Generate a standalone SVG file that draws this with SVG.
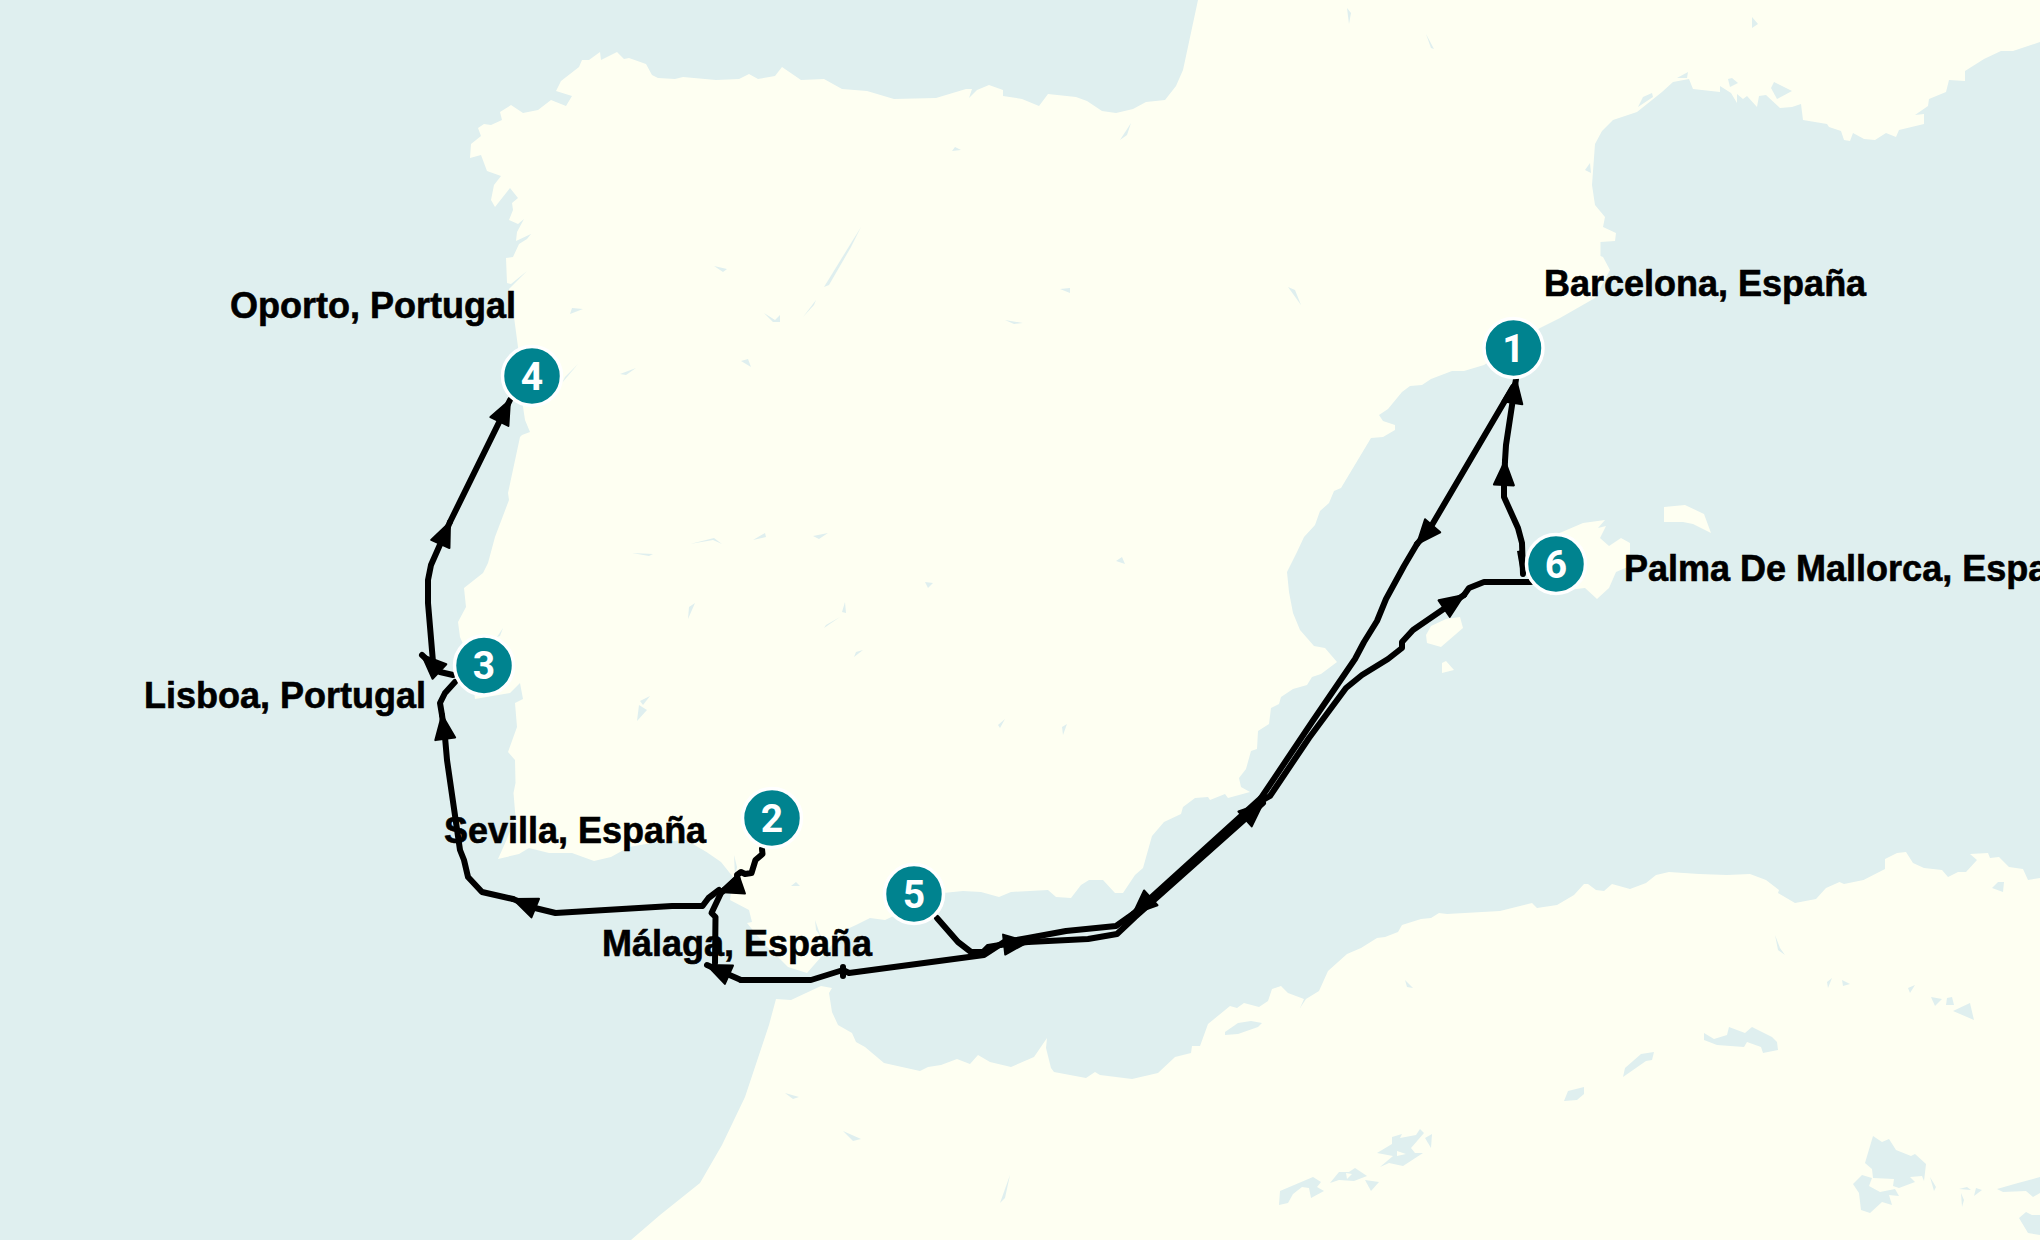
<svg xmlns="http://www.w3.org/2000/svg" width="2040" height="1240" viewBox="0 0 2040 1240">
<style>
.sea{fill:#dfefef}
.land{fill:#fefff2}
.route{fill:none;stroke:#000;stroke-width:6;stroke-linejoin:round;stroke-linecap:round}
.arr{marker-end:url(#head)}
.pin{fill:#00838f;stroke:#fff;stroke-width:3.5}
.num{font-family:"Roboto","Liberation Sans",sans-serif;font-weight:700;font-size:39px;fill:#fff;text-anchor:middle}
.lbl{font-family:"Liberation Sans",Arial,sans-serif;font-weight:700;font-size:36px;fill:#000;stroke:#000;stroke-width:.6}
</style>
<defs>
<marker id="head" markerUnits="userSpaceOnUse" markerWidth="30" markerHeight="30" refX="24" refY="10" orient="auto" overflow="visible"><path d="M0,0 L24,10 L0,20 Z" fill="#000" stroke="#000" stroke-width="2" stroke-linejoin="round"/></marker>
</defs>
<g id="map">
<rect class="sea" width="2040" height="1240"/>
<polygon class="land" points="1198,0 1183,70 1176,86 1165,100 1146,102 1133,109 1116,113 1102,111 1087,101 1076,97 1048,94 1039,106 1022,99 1003,96 1003,90 989,85 977,90 969,98 972,89 966,89 936,98 894,99 867,91 842,89 824,79 801,80 782,67 775,76 758,79 749,74 739,79 716,80 683,77 675,79 658,78 652,75 646,64 629,58 624,59 617,52 601,60 600,52 589,60 582,60 579,67 561,81 556,91 572,96 566,106 551,100 538,110 523,113 511,105 500,112 502,120 491,125 484,124 478,128 481,136 471,144 470,158 481,155 487,171 501,176 494,185 491,200 495,207 510,188 518,198 512,203 513,210 509,220 518,224 524,219 517,232 516,241 531,234 527,239 519,244 513,257 506,258 507,283 511,284 527,271 509,289 514,317 518,347 522,400 525,420 530,432 522,435 520,437 508,493 509,500 495,537 488,563 483,573 464,588 466,607 458,622 460,637 470,660 475,699 510,693 520,683 523,699 515,703 517,727 508,752 515,760 515.5,783 513.5,793 515.5,817 506.5,840 498,859 519,854 529,848 549,853 572,853 594,861 611,857 629,847 657.5,842 686,840 706.5,852 721,862 733,877 730,900 749,910 752,922 747,923 765,945 778,957 788,967 807,973 821,957 845,930 856,925 870,918 885,920 943,893 963,891 981,892 999,897 1011,892 1048,890 1056,897 1071,898 1081,885 1089,880 1103,880 1115,893 1123,893 1135,875 1143,868 1152,836 1164,822 1181,814 1183,807 1195,798 1208,797 1210,800 1225,794 1228,798 1250,792 1241,787 1239,778 1246,769 1251,751 1257,749 1258,731 1269,724 1271,708 1279,704 1281,697 1293,689 1307,685 1312,677 1321,674 1337,662 1325,648 1314,646 1300,630 1293,613 1289,592 1287,572 1297,552 1304,537 1315,525 1320,511 1329,503 1334,491 1341,488 1371,438 1383,437 1395,430 1395,425 1383,421 1379,415 1388,409 1402,392 1410,386 1422,385 1431,379 1452,371 1464,371 1484,365 1540,328 1560,318 1595,298 1610,270 1603,257 1600.5,256 1600.5,242 1615,241 1616,233 1603,227 1605,217 1595,205 1592,185 1595,144 1602,131 1613,120 1637,112 1662,92 1673,82 1689,79 1693,89 1720,92 1720,86 1731,93 1737,103 1737,94 1743,99 1747,96 1757,107 1759,96 1766,95 1780,108 1792,107 1801,104 1803,120 1827,124 1829,127 1841,131 1844,140 1850,141 1853,133 1864,139 1875,140 1886,133 1896,137 1899,130 1924,124 1924,114 1915,115 1928,106 1929,99 1946,92 1949,80 1965,81 1965,71 1984,59 2001,51 2013,51 2040,42 2040,0"/>
<polygon class="land" points="631,1240 660,1215 700,1183 722,1145 745,1097 769,1025 776,999 791,1000 821,986 832,988 829,993 832,1012 838,1025 852,1033 856,1042 865,1047 884,1063 920,1071 928,1067 941,1065 957,1059 970,1064 978,1055 990,1062 1011,1067 1034,1057 1047,1038 1046,1048 1051,1068 1054,1072 1086,1078 1095,1072 1100,1075 1132,1079 1158,1073 1175,1057 1191,1053 1192,1046 1200,1046 1208,1024 1230,1006 1237,1008 1244,1003 1259,1007 1268,1001 1272,989 1281,986 1288,993 1304,999 1300,1008 1306,999 1319,991 1328,971 1347,954 1361,948 1377,938 1385,937 1398,932 1402,925 1421,919 1431,918 1439,913 1447,914 1500,911 1532,903 1537,908 1557,905 1574,895 1584,884 1588,884 1596,890 1604,891 1612,884 1630,889 1646,883 1656,875 1669,872 1699,874 1727,875 1750,874 1766,880 1779,890 1778,893 1795,903 1816,899 1826,888 1839.5,882 1844,884 1863.5,880 1885,869 1885,859 1897,853 1906,852 1913,863 1924,868 1942,870 1948,877 1958,872 1966,872 1977,860 1970,854 1988,853 1990,858 1999,857 2009,867 2023,869 2028,880 2040,878 2040,1240"/>
<polygon class="land" points="1540,540 1562,532 1583,523 1605,520 1598,528 1606,526 1600,538 1609,546 1621,538 1630,543 1630,566 1616,572 1609,588 1597,599 1585,588 1576,589 1550,595"/>
<polygon class="land" points="1664,507 1685,505 1704,514 1711,533 1693,524 1683,522 1664,522"/>
<polygon class="land" points="1426,635 1431,626 1446,619 1460,617 1463,628 1441,647 1427,643"/>
<polygon class="land" points="1442,663 1446,661 1454,670 1442,673"/>
<g class="sea">
<polygon points="1225,1032 1238,1023 1251,1021 1262,1023 1258,1027 1238,1034 1225,1035"/>
<polygon points="1992,888 1998,882 2004,882 2003,892"/>
<polygon points="1775,935 1780,948 1785,955 1778,950"/>
<polygon points="1405,980 1413,988 1407,987"/>
<polygon points="1827,982 1832,978 1828,988"/>
<polygon points="1842,980 1850,984 1843,986"/>
<polygon points="1908,988 1915,985 1910,993"/>
<polygon points="1931,997 1942,999 1935,1006"/>
<polygon points="1947,998 1952,997 1954,1005 1946,1005"/>
<polygon points="1953,1011 1970,1003 1974,1020"/>
<polygon points="1704,1033 1714,1039 1727,1035 1729,1027 1745,1033 1752,1027 1772,1037 1777,1042 1778,1050 1763,1053 1761,1047 1747,1042 1744,1047 1717,1045 1704,1040"/>
<polygon points="1641,1054 1654,1052 1652,1060 1646,1061 1623,1077 1625,1068"/>
<polygon points="1568,1091 1584,1087 1584,1094 1577,1100 1564,1101"/>
<polygon points="1280,1191 1313,1177 1321,1182 1317,1187 1324,1191 1311,1198 1309,1188 1302,1187 1293,1194 1288,1203 1279,1205"/>
<polygon points="1339,1172 1349,1172 1355,1168 1367,1176 1354,1181 1339,1180 1330,1183"/>
<polygon points="1365,1180 1379,1182 1371,1191"/>
<polygon points="1392,1137 1402,1134 1400,1138 1416,1135 1420,1129 1424,1133 1411,1148 1415,1153 1423,1153 1403,1166 1389,1163 1380,1167 1393,1156 1377,1153 1392,1144"/>
<polygon points="1425,1138 1432,1134 1431,1148"/>
<polygon points="1873,1136 1882,1142 1889,1139 1896,1150 1911,1156 1915,1154 1926,1164 1924,1181 1922,1176 1910,1177 1915,1182 1899,1188 1893,1186 1894,1179 1873,1178 1872,1169 1865,1163"/>
<polygon points="1862,1175 1872,1178 1869,1186 1880,1192 1895,1189 1899,1196 1889,1195 1892,1205 1882,1202 1870,1213 1861,1210 1859,1193 1853,1184"/>
<polygon points="1930,1177 1936,1187 1934,1191"/>
<polygon points="1959,1189 1967,1187 1971,1190"/>
<polygon points="1976,1188 1982,1190 1974,1196"/>
<polygon points="1961,1193 1964,1200 1962,1207"/>
<polygon points="1997,1189 2018,1183 2040,1177 2040,1193 2033,1197 2026,1191 2003,1192"/>
<polygon points="2026,1212 2032,1215 2040,1215 2040,1235 2028,1233 2019,1218"/>
<polygon points="785,1093 799,1097 793,1099"/>
<polygon points="843,1131 861,1139 853,1141"/>
<polygon points="1010,1175 1005,1198 1000,1203"/>
<polygon points="734,855 737,867 735,877"/>
<polygon points="796,882 791,886 800,886"/>
<polygon points="815,920 821,937 816,930"/>
<polygon points="1638,107 1643,97 1652,93 1653,97"/>
<polygon points="1677,78 1688,72 1687,78"/>
<polygon points="1728,79 1732,78 1738,83 1730,87"/>
<polygon points="1774,82 1792,91 1777,99 1771,88"/>
<polygon points="1752,17 1758,24 1752,28"/>
<polygon points="1590,163 1591,173 1585,170"/>
<polygon points="1060,289 1070,288 1070,293"/>
<polygon points="1005,320 1023,323 1014,324"/>
<polygon points="1288,287 1295,290 1301,305"/>
<polygon points="1116,561 1122,557 1125,564"/>
<polygon points="1062,727 1067,724 1063,735"/>
<polygon points="1005,719 998,725 1000,728"/>
<polygon points="952,151 955,147 961,150"/>
<polygon points="1131,123 1127,135 1120,140"/>
<polygon points="861,227 851,247 829,285 824,287 848,248"/>
<polygon points="816,300 814,305 803,317"/>
<polygon points="714,266 727,269 723,272"/>
<polygon points="764,313 775,320 780,315 780,322 773,322"/>
<polygon points="572,308 583,309 570,314"/>
<polygon points="636,368 626,375 620,374"/>
<polygon points="741,361 748,359 751,367"/>
<polygon points="578,364 562,383 565,377"/>
<polygon points="632,553 653,554 649,556"/>
<polygon points="690,544 714,538 722,544 713,540"/>
<polygon points="753,540 765,533 766,537"/>
<polygon points="813,536 828,533 819,539"/>
<polygon points="925,582 933,583 928,588"/>
<polygon points="695,603 689,607 688,619"/>
<polygon points="845,602 846,613 842,612"/>
<polygon points="840,617 826,625 824,628"/>
<polygon points="863,650 856,652 854,657"/>
<polygon points="650,696 640,701 643,705"/>
<polygon points="639,705 647,710 637,721"/>
<polygon points="1347,8 1351,13 1349,24"/>
<polygon points="1426,34 1434,49 1431,48"/>
<polygon points="503,628 497,637 500,636"/>
</g>
<polygon class="land" points="1346,1173 1352,1174 1347,1179"/>
<polygon class="land" points="1397,1151 1406,1154 1397,1156"/>
</g>
<g id="connectors">
<path class="route arr" d="M1513,387 L1429,530 L1417,544"/>
<path class="route" d="M1417,544 L1404,566 L1386,599 L1377,621 L1364,642 L1355,659 L1312,722 L1261,798"/>
<path class="route arr" d="M1261,798 L1133,914"/>
<path class="route" d="M1133,914 L1116,926 L1066,931 L1028,938 L1004,942 L984,955 L849,973 L843,970 L811,980 L741,980"/>
<path class="route arr" d="M741,980 L725,973 L707,965"/>
<path class="route" d="M843,967 L843,976"/>
<path class="route" d="M715,963 L715.5,917 L711.5,913 L721,893 L737,878"/>
<path class="route" d="M762,849 L762.5,854 L755.5,860 L751.5,873 L745,874 L741,872 L737,875 L738,885"/>
<path class="route arr" d="M739,885 L719,892"/>
<path class="route arr" d="M719,890 L708.5,898 L702.5,906 L672,906 L555.5,913 L535,908 L513,899"/>
<path class="route arr" d="M513,899 L482,892 L468,877 L464,860 L460,850 L447,760 L445,737 L442,715"/>
<path class="route" d="M442,715 L440,703 L445,693 L455,682"/>
<path class="route arr" d="M453,675 L440,672 L422,655"/>
<path class="route arr" d="M433,662 L428,603 L428,580 L431,565 L450,522"/>
<path class="route arr" d="M450,522 L510,400"/>
<path class="route" d="M937,918 L958,942 L971,952 L983,952 L988,947 L1000,945"/>
<path class="route arr" d="M1000,945 L1028,942"/>
<path class="route arr" d="M1028,942 L1088,939 L1117,934 L1135,917 L1263,803"/>
<path class="route arr" d="M1263,800 L1270,796 L1309,738 L1346,688 L1362,675 L1388,659 L1402,648 L1402,642 L1413,630 L1464,595"/>
<path class="route" d="M1464,595 L1469,588 L1484,582 L1531,582"/>
<path class="route arr" d="M1523,574 L1522,543 L1518,528 L1504,497 L1504,483 L1505,461"/>
<path class="route arr" d="M1505,461 L1506,445 L1516,379"/>
<polygon points="1517,551 1524,550 1524,574 1521,574"/>
</g>
<g id="node-1"><circle class="pin" cx="1513.5" cy="348" r="29.5"/><text class="num" x="1513.5" y="362">1</text><text class="lbl" x="1544" y="296">Barcelona, España</text></g>
<g id="node-2"><circle class="pin" cx="772" cy="818" r="29.5"/><text class="num" x="772" y="832">2</text><text class="lbl" x="444" y="843">Sevilla, España</text></g>
<g id="node-3"><circle class="pin" cx="484" cy="665.5" r="29.5"/><text class="num" x="484" y="679">3</text><text class="lbl" x="144" y="708">Lisboa, Portugal</text></g>
<g id="node-4"><circle class="pin" cx="532" cy="376" r="29.5"/><text class="num" x="532" y="390">4</text><text class="lbl" x="230" y="318">Oporto, Portugal</text></g>
<g id="node-5"><circle class="pin" cx="914" cy="894" r="29.5"/><text class="num" x="914" y="908">5</text><text class="lbl" x="602" y="956">Málaga, España</text></g>
<g id="node-6"><circle class="pin" cx="1556" cy="564" r="29.5"/><text class="num" x="1556" y="578">6</text><text class="lbl" x="1624" y="581">Palma De Mallorca, España</text></g>
</svg>
